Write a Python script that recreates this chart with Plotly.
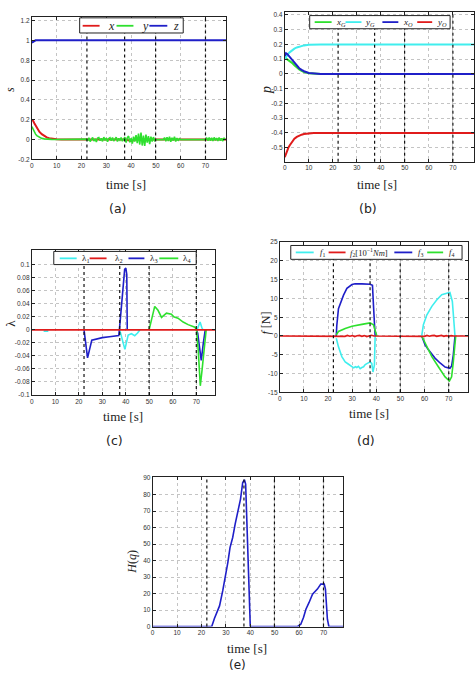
import plotly.graph_objects as go

W, H = 475, 678

RED = "#e01b1b"
GREEN = "#2ee02e"
BLUE = "#1f1fc8"
CYAN = "#40eeee"

# ---------------- data ----------------
event_times = [22.2, 37.4, 49.9, 70.0]
x_ticks = [0, 10, 20, 30, 40, 50, 60, 70]

# (a) s
t_a_x = [0, 0.5, 1, 1.5, 2, 3, 4, 5, 6, 7, 8, 10, 12, 15, 20, 38, 39, 40, 41, 42, 78.3]
s_x = [0.2, 0.19, 0.165, 0.14, 0.115, 0.08, 0.055, 0.035, 0.022, 0.014, 0.009, 0.004,
       0.002, 0.001, 0, 0, -0.008, -0.015, -0.008, 0, 0]
t_a_z = [0, 0.5, 1, 1.5, 2, 78.3]
s_z = [0.98, 0.99, 0.998, 1.003, 1.005, 1.005]
t_a_y_head = [0, 0.5, 1, 1.5, 2, 3, 4, 5, 6, 8, 10, 15, 21.5]
s_y_head = [0.13, 0.1, 0.075, 0.055, 0.04, 0.022, 0.012, 0.007, 0.004, 0.002, 0.001, 0, 0]
s_y_n1 = [0.005, -0.012, 0.018, -0.02, 0.01, 0.022, -0.015, 0.008, -0.025, 0.015, 0.02,
          -0.01, 0.012, -0.018, 0.025, -0.008, 0.015, -0.022, 0.01, 0.018, -0.012, 0.02,
          -0.015, 0.006, 0.024, -0.02, 0.012, -0.006, 0.02, -0.016, 0.01]          # 22 .. 37
s_y_n2 = [0.025, -0.03, 0.02, 0.035, -0.028, 0.015, -0.04, 0.03, -0.02, 0.045, -0.035,
          0.06, -0.05, 0.07, -0.06, 0.04, -0.065, 0.05, -0.03, 0.035, -0.045, 0.03,
          -0.02, 0.025, -0.01]                                                     # 37.5 .. 49.5
s_y_n3 = [0.02, -0.018, 0.025, -0.015, 0.03, -0.022, 0.018, -0.01, 0.028, -0.02, 0.015,
          -0.012, 0.01]                                                            # 53.5 .. 59.5
s_y_n4 = [0.015, -0.012, 0.02, -0.01, 0.018, -0.015, 0.022, -0.008, 0.016, -0.014, 0.02,
          -0.01, 0.012, -0.015, 0.018, -0.006]                                     # 70.5 .. 78

# (b) p
t_b = [0, 0.5, 1, 1.5, 2, 3, 4, 5, 6, 7, 8, 10, 12, 15, 20, 78.8]
p_xG = [0.11, 0.105, 0.1, 0.095, 0.09, 0.075, 0.058, 0.042, 0.03, 0.02, 0.012, 0.004,
        0.001, 0, 0, 0]
p_yG = [0.1, 0.115, 0.128, 0.138, 0.146, 0.16, 0.171, 0.179, 0.185, 0.19, 0.193, 0.197,
        0.199, 0.2, 0.2, 0.2]
p_xO = [0.12, 0.14, 0.135, 0.125, 0.115, 0.095, 0.075, 0.055, 0.038, 0.027, 0.018,
        0.006, 0.002, 0, 0, 0]
p_yO = [-0.565, -0.54, -0.515, -0.5, -0.485, -0.46, -0.44, -0.427, -0.418, -0.412,
        -0.408, -0.403, -0.401, -0.4, -0.4, -0.4]

# (c) lambda
t_l1 = [5, 7, None, 37.4, 38.5, 39.6, 41, 42.4, 43.8, 45, 46, None, 70.3, 71, 71.6, 72.3, 72.8]
lam1 = [-0.002, -0.002, None, 0, -0.015, -0.03, -0.008, -0.006, -0.009, -0.005, 0, None,
        0, 0.006, 0.012, 0.004, 0]
t_l2 = [0, 78]
lam2 = [0, 0]
t_l3 = [22.2, 22.8, 23.7, 25.5, 27.6, 30, 33, 37.0, 37.5, 38.0, 38.5, 39.0, 39.5, 40.0,
        40.4, 40.6, None, 70, 70.6, 71.3, 72.1, 73, 73.8]
lam3 = [0, -0.02, -0.043, -0.016, -0.0137, -0.012, -0.0105, -0.0087, 0.01, 0.03, 0.055,
        0.075, 0.093, 0.095, 0.085, 0, None, 0, -0.005, -0.025, -0.047, -0.02, 0]
t_l4 = [49.9, 52.3, 53.7, 55.2, 57.3, 59.4, 60.4, 62.2, 64.4, 66.5, 69.4, 70.1, 70.8,
        71.7, 72.5, 73.3, 74.2]
lam4 = [0, 0.036, 0.03, 0.019, 0.0256, 0.024, 0.02, 0.018, 0.012, 0.008, 0.004, 0,
        -0.03, -0.086, -0.06, -0.03, 0]

# (d) f
t_f1 = [23.4, 24.3, 25.7, 27.1, 28.2, 29.2, 30.0, 30.6, 31.3, 31.9, 32.6, 33.3, 34.0, 34.7,
        35.4, 36.1, 36.8, 37.4, 38.1, 38.6, 39.2, 39.5, None,
        58.8, 59.5, 60.9, 63.0, 65.0, 67.1, 69.2, 70.5, 71.5, 72.3, 72.6]
f1 = [-0.6, -2.9, -5.5, -6.9, -7.4, -7.8, -8.3, -8.5, -8.2, -8.4, -8.1, -8.7, -8.4, -8.2,
      -7.6, -7.3, -7.0, -6.9, -7.3, -9.6, -7.8, 0, None,
      0, 3, 5.6, 7.9, 9.6, 11.0, 11.4, 11.6, 9.2, 3.8, 0]
t_f2 = [0, 25, 26, 27, 28, 29, 30, 31, 32, 33, 34, 35, 36, 37, 38, 39, 58, 59, 60, 61, 62,
        63, 64, 65, 66, 67, 68, 69, 70, 71, 72, 78]
f2 = [0, 0, 0.1, -0.1, 0.15, -0.05, 0.1, -0.15, 0.05, 0.15, -0.1, 0.1, -0.15, 0.1, 0.2, 0, 0,
      0.1, -0.1, 0.15, -0.05, 0.1, 0.15, -0.1, 0.05, 0.15, -0.1, 0.1, -0.05, 0.1, 0, 0]
t_f3 = [23.4, 23.6, 24.3, 25.5, 26.4, 27.8, 29.9, 31.2, 33.0, 34.0, 37.4, 38.4, 38.8,
        39.5, None, 58.8, 60.2, 61.6, 63.0, 64.3, 66.4, 68.5, 70.5, 71.2, 71.9, 72.6]
f3 = [0, 2.7, 7.3, 9.5, 10.9, 12.7, 13.7, 13.9, 14.0, 13.9, 13.8, 13.5, 8.3, 0, None,
      0, -2.4, -3.7, -5.0, -5.9, -7.2, -8.3, -8.6, -8.0, -5.0, 0]
t_f4 = [23.4, 24.3, 27.1, 29.9, 34.0, 37.4, 38.8, 40.2, None,
        58.8, 60.9, 63.0, 65.7, 68.5, 70.3, 71.2, 71.9, 72.6, 72.9]
f4 = [0.3, 1.2, 2.0, 2.6, 3.1, 3.5, 3.0, 0, None,
      0, -2.9, -5.5, -8.2, -10.9, -12.0, -10.9, -6.9, -0.6, 0]

# (e) H(q)
t_e = [0, 24.2, 25.3, 26.0, 27.4, 28.7, 30.1, 30.8, 31.7, 32.8, 33.8, 34.9, 36.0, 36.9,
       37.6, 38.1, 38.9, 40.0, 59.4, 60.7, 61.8, 62.8, 64.1, 65.5, 67.5, 68.9, 70.3, 70.8,
       71.6, 72.2, 78.1]
Hq = [0, 0, 4.9, 7.5, 12.5, 21.6, 31.8, 38.8, 47.9, 54.0, 62.1, 70.2, 77.3, 87.4, 89.0,
      86.4, 51.0, 0, 0, 1.4, 5.5, 10.5, 14.6, 19.6, 22.7, 25.7, 25.7, 22.7, 4.4, 0, 0]

y_ticks_a = [-0.2, 0, 0.2, 0.4, 0.6, 0.8, 1, 1.2]
y_ticks_b = [-0.5, -0.4, -0.3, -0.2, -0.1, 0, 0.1, 0.2, 0.3, 0.4]
y_ticks_c = [-0.1, -0.08, -0.06, -0.04, -0.02, 0, 0.02, 0.04, 0.06, 0.08, 0.1]
y_ticks_d = [-15, -10, -5, 0, 5, 10, 15, 20, 25]
y_ticks_e = [0, 10, 20, 30, 40, 50, 60, 70, 80, 90]

# ---------------- layout helpers ----------------
def px(x):
    return x / W

def py(y):
    return 1 - y / H

panels = {
    # name: (axis suffix, left, top, right, bottom, xrange, yrange, yticks)
    "a": ("", 30, 13, 225, 157, [0, 78.3], [-0.2, 1.24], y_ticks_a),
    "b": ("2", 284, 8, 474, 159.3, [0, 78.8], [-0.595, 0.42], y_ticks_b),
    "c": ("3", 30, 249, 214, 395, [0, 78], [-0.1, 0.122], y_ticks_c),
    "d": ("4", 279, 240.7, 468, 392.3, [0, 78], [-15, 25], y_ticks_d),
    "e": ("5", 151.3, 478.3, 342.7, 629, [0, 78.1], [0, 90.5], y_ticks_e),
}

fig = go.Figure()

def fmt(v):
    return f"{v:g}"

layout_axes = {}
for name, (suf, l, t, r, b, xr, yr, yt) in panels.items():
    common = dict(showline=True, linecolor="#222", linewidth=1, mirror="ticks",
                  ticks="inside", ticklen=3, tickcolor="#222", showgrid=True,
                  gridcolor="#c4c4c4", griddash="dot", gridwidth=1, zeroline=False,
                  tickfont=dict(size=6.5, family="Liberation Sans", color="#333"))
    layout_axes["xaxis" + suf] = dict(common, domain=[px(l), px(r)], range=xr,
                                      anchor="y" + suf, tickvals=x_ticks,
                                      ticktext=[fmt(v) for v in x_ticks])
    layout_axes["yaxis" + suf] = dict(common, domain=[py(b), py(t)], range=yr,
                                      anchor="x" + suf, tickvals=yt,
                                      ticktext=[fmt(v) for v in yt])

def add_line(suf, t, v, color, width=1.8):
    fig.add_trace(go.Scatter(x=t, y=v, mode="lines", line=dict(color=color, width=width),
                             xaxis="x" + suf, yaxis="y" + suf, showlegend=False,
                             connectgaps=False))

# (a)
t_a_y = (t_a_y_head
         + [22 + 0.5 * i for i in range(len(s_y_n1))]
         + [37.5 + 0.5 * i for i in range(len(s_y_n2))]
         + [50, 53]
         + [53.5 + 0.5 * i for i in range(len(s_y_n3))]
         + [60, 70]
         + [70.5 + 0.5 * i for i in range(len(s_y_n4))])
s_y = s_y_head + s_y_n1 + s_y_n2 + [0, 0] + s_y_n3 + [0, 0] + s_y_n4
add_line("", t_a_x, s_x, RED, 2)
add_line("", t_a_y, s_y, GREEN, 1.6)
add_line("", t_a_z, s_z, BLUE, 2)

# (b)
add_line("2", t_b, p_xG, GREEN, 2)
add_line("2", t_b, p_yG, CYAN, 2)
add_line("2", t_b, p_xO, BLUE, 2)
add_line("2", t_b, p_yO, RED, 2)

# (c)
add_line("3", t_l1, lam1, CYAN, 1.6)
add_line("3", t_l3, lam3, BLUE, 1.6)
add_line("3", t_l4, lam4, GREEN, 1.6)
add_line("3", t_l2, lam2, RED, 1.6)

# (d)
add_line("4", t_f1, f1, CYAN, 1.6)
add_line("4", t_f3, f3, BLUE, 1.6)
add_line("4", t_f4, f4, GREEN, 1.6)
add_line("4", t_f2, f2, RED, 1.6)

# (e)
add_line("5", t_e, Hq, BLUE, 1.6)

shapes = []
annotations = []

# event lines
for name, (suf, *_rest) in panels.items():
    for te in event_times:
        shapes.append(dict(type="line", xref="x" + suf, yref="y" + suf + " domain",
                           x0=te, x1=te, y0=0, y1=1,
                           line=dict(color="#111", width=1.2, dash="dot"), layer="above"))

SERIF = "Liberation Serif, DejaVu Serif, serif"
SANS = "DejaVu Sans, Noto Sans, sans-serif"

def ann(x, y, text, size=12, family=SERIF, angle=0, xanchor="center", yanchor="middle",
        color="#222"):
    annotations.append(dict(x=px(x), y=py(y), xref="paper", yref="paper", text=text,
                            showarrow=False, textangle=angle, xanchor=xanchor,
                            yanchor=yanchor, font=dict(size=size, family=family, color=color)))

# axis titles
for xc, yc in [(125, 182), (377, 182), (122, 417), (369, 414), (246, 651)]:
    ann(xc, yc, "time [s]", size=13)
# panel labels
for xc, yc, lab in [(115.5, 207, "(a)"), (368, 207, "(b)"), (113, 441, "(c)"),
                    (365.5, 441, "(d)")]:
    ann(xc, yc, lab, size=12.5, family=SANS)
ann(236, 677, "(e)", size=12, family=SANS, yanchor="bottom")
# y titles
ann(8, 86, "<i>s</i>", size=12, angle=-90)
ann(265, 87, "<i>p</i>", size=14, angle=-90)
ann(9, 322, "λ", size=13, angle=-90)
ann(265, 322, "<i>f</i> [N]", size=12, angle=-90)
ann(131, 563, "<i>H</i>(<i>q</i>)", size=12, angle=-90)

# legends (boxes + samples)
def legend(box, ly, items, size):
    l, t, r, b = box
    shapes.append(dict(type="rect", xref="paper", yref="paper", x0=px(l), x1=px(r),
                       y0=py(b), y1=py(t), fillcolor="white",
                       line=dict(color="#222", width=1), layer="above"))
    for color, x0, x1, text, tx in items:
        shapes.append(dict(type="line", xref="paper", yref="paper", x0=px(x0), x1=px(x1),
                           y0=py(ly), y1=py(ly), line=dict(color=color, width=1.8),
                           layer="above"))
        ann(tx, ly, text, size=size, xanchor="left")

legend((78, 14, 182, 29.3), 22,
       [(RED, 81, 98, "<i>x</i>", 104), (GREEN, 115, 132, "<i>y</i>", 139),
        (BLUE, 148, 166, "<i>z</i>", 170)], 12)
legend((309, 11.7, 450, 25), 18.3,
       [(GREEN, 314, 331, "<i>x</i><sub><i>G</i></sub>", 333),
        (CYAN, 345, 361, "<i>y</i><sub><i>G</i></sub>", 363),
        (BLUE, 382, 398, "<i>x</i><sub><i>O</i></sub>", 401),
        (RED, 417, 432, "<i>y</i><sub><i>O</i></sub>", 435)], 9)
legend((52, 250, 195, 263.3), 257,
       [(CYAN, 58, 75, "λ<sub>1</sub>", 78), (RED, 88, 105, "λ<sub>2</sub>", 111),
        (BLUE, 127, 143, "λ<sub>3</sub>", 147), (GREEN, 158, 177, "λ<sub>4</sub>", 180)], 9)
legend((290, 244, 462, 258), 251,
       [(CYAN, 295, 313, "<i>f</i><sub>1</sub>", 317),
        (RED, 328, 345, "<i>f</i><sub>2</sub>[10<sup>−1</sup><i>Nm</i>]", 347),
        (BLUE, 394, 412, "<i>f</i><sub>3</sub>", 416),
        (GREEN, 427, 443, "<i>f</i><sub>4</sub>", 447)], 8.5)

fig.update_layout(width=W, height=H, margin=dict(l=0, r=0, t=0, b=0),
                  paper_bgcolor="white", plot_bgcolor="white",
                  shapes=shapes, annotations=annotations, showlegend=False,
                  **layout_axes)

fig.write_html("out.html")
